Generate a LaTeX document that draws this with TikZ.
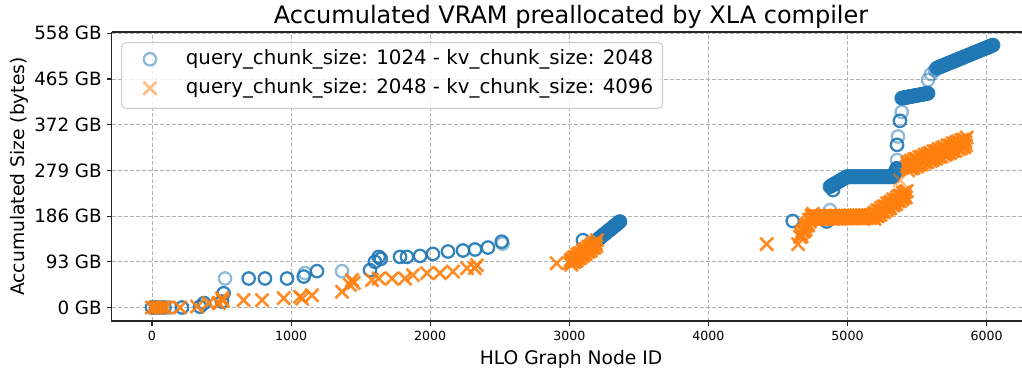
\documentclass[tikz,border=0pt]{standalone}
\usepackage{fontspec}
\setmainfont{DejaVu Sans}
\usetikzlibrary{positioning}

\definecolor{tabblue}{HTML}{1F77B4}
\definecolor{taborange}{HTML}{FF7F0E}

\begin{document}
\begin{tikzpicture}[
    x=1pt, y=-1pt,
    % --- Axes ---
    spine/.style={line width=1.1pt, black!85},
    tickmark/.style={line width=1.1pt, black!85},
    gridline/.style={line width=0.9pt, black!30, dash pattern=on 4pt off 2pt},
    yticklabel/.style={inner sep=0pt, font=\fontsize{18.3}{20}\selectfont},
    xticklabel/.style={inner sep=0pt, font=\fontsize{12.6}{14}\selectfont},
    axislabel/.style={inner sep=0pt, font=\fontsize{18.7}{22}\selectfont},
    % --- Markers ---
    omark/.style={draw=tabblue, line width=2.3pt, draw opacity=0.9},
    omark light/.style={omark, draw opacity=0.5},
    xmark/.style={draw=taborange, line width=2.6pt, draw opacity=0.9},
    xmark light/.style={xmark, draw opacity=0.5},
    % --- Legend ---
    legendbox/.style={draw=black!20, fill=white, fill opacity=0.8, rounded corners=4pt,
        line width=1pt, minimum width=541pt, minimum height=65.6pt},
    legendtext/.style={anchor=west, inner sep=0pt, font=\fontsize{19.8}{24}\selectfont}
]
\useasboundingbox (0,0) rectangle (1022,369);

% data frame: node id on x, GB on y
\begin{scope}[shift={(152,307.5)}, x=0.1391pt, y=0.4914pt]

    % grid
    \foreach \t in {0,1000,...,6000}
        \draw[gridline] (\t,-27.5) -- (\t,560.6);
    \foreach \g in {0,93,...,558}
        \draw[gridline] (-288,\g) -- (6255,\g);

    % spines
    \draw[spine] (-288,560.6) -- (-288,-27.5) -- (6255,-27.5);
    \draw[spine] (-288,560.6) -- (6255,560.6);

    % ticks and tick labels
    \foreach \t in {0,1000,...,6000}{
        \draw[tickmark] (\t,-27.5) -- ++(0pt,-4.9pt);
        \node[xticklabel, anchor=north] (xt\t) at ([yshift=-10.3pt]\t,-27.5) {\t};
    }
    \foreach \g in {0,93,...,558}{
        \draw[tickmark] (-288,\g) -- ++(-4.9pt,0pt);
        \node[yticklabel, anchor=base east] (yt\g) at ([xshift=-10pt, yshift=-6.6pt]-288,\g) {\g~GB};
    }

    % query 1024 / kv 2048 -- single allocations
    \foreach \i/\g in {0/0, 30/0, 60/0, 90/0, 216/0, 345/1.6, 374/9, 503/12, 515/29,
            695/59, 812/59, 971/59, 1091/63, 1186/74, 1567/76, 1603/93, 1630/103, 1645/99,
            1783/103, 1833/103, 1927/105, 2020/109, 2128/114, 2236/116, 2322/118, 2415/122,
            2514/134, 3098/137, 4606/176, 4850/175, 4860/182, 4896/239, 5354/283, 5356/331,
            5377/380}
        \draw[omark] (\i,\g) circle[radius=6.2pt];
    \foreach \i/\g in {130/0, 525/59, 1100/70, 1366/74, 2520/130, 4874/198, 5356/300,
            5363/348, 5390/398, 5579/463, 5600/475, 5629/483}
        \draw[omark light] (\i,\g) circle[radius=6.2pt];
    % runs of allocations
    \foreach \a/\ga/\b/\gb/\n in {3199/137/3364/175/30, 4874/246/4994/266/16,
            4994/266/5327/266/50, 5330/268/5354/283/5, 5390/426/5579/436/30,
            5641/487/6046/534/60}
        \foreach \k in {0,...,\n}
            \draw[omark] ({\a+(\b-\a)/\n*\k},{\ga+(\gb-\ga)/\n*\k}) circle[radius=6.2pt];

    % query 2048 / kv 4096 -- single allocations
    \foreach \i/\g in {0/0, 25/0, 50/0, 75/0, 100/0, 201/0, 324/2, 408/9, 480/9, 503/19,
            510/14, 659/15, 791/15, 947/19, 1064/22, 1080/18, 1150/25, 1366/32, 1423/46,
            1438/56, 1450/50, 1582/56, 1630/59, 1725/59, 1819/59, 1876/66, 1977/70,
            2070/70, 2164/73, 2265/80, 2320/80, 2336/86, 2909/90, 4419/129, 4644/129}
        \draw[xmark] (\i,\g) +(-6.5pt,-6.5pt) -- +(6.5pt,6.5pt) +(-6.5pt,6.5pt) -- +(6.5pt,-6.5pt);
    \draw[xmark light] (5377,259) +(-6.5pt,-6.5pt) -- +(6.5pt,6.5pt) +(-6.5pt,6.5pt) -- +(6.5pt,-6.5pt);
    % runs of allocations, a bit ragged
    \foreach \a/\ga/\b/\gb/\n/\j in {3005/91/3199/131/40/6, 4659/144/4752/188/16/5,
            4752/183/5183/185/90/3, 5183/185/5426/232/45/7, 5426/287/5857/337/90/9}
        \foreach \k in {0,...,\n}
            \draw[xmark] ({\a+(\b-\a)/\n*\k},{\ga+(\gb-\ga)/\n*\k+\j*sin(\k*137)})
                +(-6.5pt,-6.5pt) -- +(6.5pt,6.5pt) +(-6.5pt,6.5pt) -- +(6.5pt,-6.5pt);
\end{scope}

% legend
\node[legendbox] (legend) at (392.1,75.5) {};
\draw[omark light] (150,59.3) circle[radius=6.2pt];
\node[legendtext] (lgblue) at (185.7,59.3) {query\_chunk\_size: 1024 - kv\_chunk\_size: 2048};
\draw[xmark light] (150,88.3) +(-6.5pt,-6.5pt) -- +(6.5pt,6.5pt) +(-6.5pt,6.5pt) -- +(6.5pt,-6.5pt);
\node[legendtext] (lgorange) at (185.7,88.3) {query\_chunk\_size: 2048 - kv\_chunk\_size: 4096};

% titles
\node[anchor=base, inner sep=0pt, font=\fontsize{24}{28}\selectfont] (title) at (571,24)
    {Accumulated VRAM preallocated by XLA compiler};
\node[axislabel, anchor=base] (xlabel) at (571,364) {HLO Graph Node ID};
\node[axislabel, anchor=base, rotate=90] (ylabel) at (24,176.5) {Accumulated Size (bytes)};

\end{tikzpicture}
\end{document}
